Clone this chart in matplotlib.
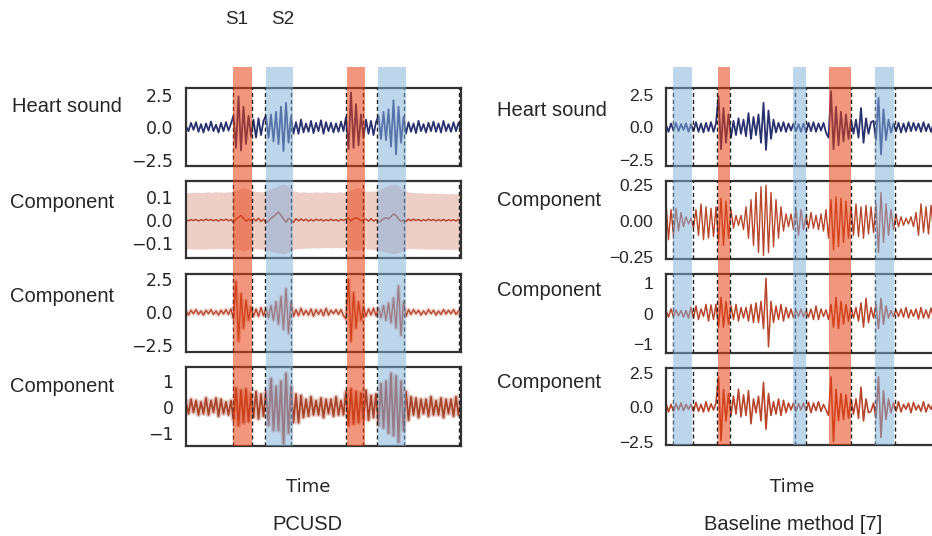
import numpy as np
import matplotlib
matplotlib.use("Agg")
import matplotlib.pyplot as plt
from matplotlib.patches import Rectangle
from matplotlib.transforms import blended_transform_factory

W, H = 932, 536
N = 111
time = np.linspace(0, 2.75, N)

# ---------------- PCUSD (left) ----------------
pc_heart = [0.1, -0.3, 0.35, -0.2, 0.4, -0.35, 0.25, -0.4, 0.3, -0.25, 0.45, -0.3, 0.2, -0.4, 0.35, -0.3, 0.4, -0.25, 0.3,
            0.9, -1.6, 2.4, -1.8, 1.6, -1.3, 0.9, -0.7,
            0.6, -0.8, 0.7, -0.6, 0.5,
            0.9, -0.8, 1.0, -1.1, 1.2, -1.3, 1.6, -1.85, 1.9, -1.2, 0.8, -0.5,
            0.4, -0.5, 0.6, -0.4, 0.3, -0.35, 0.5, -0.45, 0.35, -0.3, 0.55, -0.5, 0.4, -0.3, 0.35, -0.4, 0.3, -0.35, 0.45, -0.3,
            0.8, -1.7, 2.7, -1.6, 1.8, -1.4, 1.0, -0.8,
            0.6, -0.5, 0.5, -0.6, 0.4,
            0.9, -0.9, 1.2, -1.0, 1.4, -1.5, 2.1, -2.1, 1.6, -1.2, 0.8, -0.5,
            0.4, -0.35, 0.3, -0.45, 0.5, -0.3, 0.25, -0.4, 0.35, -0.3, 0.45, -0.35, 0.3, -0.4, 0.5, -0.3, 0.25, -0.35, 0.4, -0.3, 0.35, -0.2]

pc_comp1_mean = [0.0, -0.003, 0.002, -0.002, 0.003, -0.004, 0.002, -0.003, 0.004, -0.002, 0.003, -0.003, 0.002, -0.004, 0.003, -0.002, 0.004, -0.003, 0.002,
                 -0.01, 0.005, 0.012, 0.02, 0.008, -0.005, 0.003, -0.002,
                 0.006, -0.004, 0.008, -0.006, 0.004,
                 -0.01, -0.004, 0.008, 0.015, 0.025, 0.035, 0.02, 0.005, -0.01, 0.008, 0.0, -0.01,
                 0.006, -0.004, 0.005, -0.003, 0.004, -0.005, 0.003, -0.004, 0.004, -0.002, 0.003, -0.004, 0.002, -0.003, 0.004, -0.003, 0.002, -0.004, 0.003, -0.002,
                 0.004, 0.008, -0.004, 0.006, 0.01, 0.005, -0.003, 0.002,
                 0.004, -0.005, 0.006, -0.004, 0.002,
                 -0.008, -0.004, 0.006, 0.01, 0.005, 0.015, 0.026, 0.02, 0.005, -0.005, 0.0, -0.006,
                 0.004, -0.003, 0.004, -0.002, 0.003, -0.004, 0.002, -0.003, 0.004, -0.002, 0.003, -0.004, 0.002, -0.003, 0.003, -0.004, 0.002, -0.003, 0.002, -0.004, 0.003, -0.002]

pc_comp1_upper = [0.118, 0.120, 0.119, 0.121, 0.120, 0.122, 0.121, 0.120, 0.122, 0.123, 0.121, 0.122, 0.124, 0.122, 0.123, 0.121, 0.122, 0.124, 0.123,
                  0.125, 0.128, 0.132, 0.138, 0.143, 0.140, 0.134, 0.128,
                  0.126, 0.124, 0.125, 0.123, 0.124,
                  0.128, 0.132, 0.136, 0.140, 0.145, 0.150, 0.155, 0.157, 0.154, 0.146, 0.136, 0.128,
                  0.124, 0.122, 0.121, 0.123, 0.122, 0.120, 0.122, 0.121, 0.123, 0.122, 0.121, 0.122, 0.123, 0.121, 0.122, 0.120, 0.121, 0.123, 0.122, 0.121,
                  0.124, 0.128, 0.132, 0.136, 0.140, 0.142, 0.138, 0.130,
                  0.126, 0.125, 0.127, 0.126, 0.128,
                  0.132, 0.138, 0.142, 0.146, 0.150, 0.154, 0.157, 0.155, 0.150, 0.142, 0.134, 0.127,
                  0.123, 0.121, 0.120, 0.119, 0.118, 0.119, 0.117, 0.118, 0.116, 0.117, 0.118, 0.116, 0.115, 0.117, 0.116, 0.115, 0.114, 0.116, 0.115, 0.114, 0.116, 0.115]

pc_comp1_lower = [-0.125, -0.124, -0.126, -0.125, -0.127, -0.126, -0.125, -0.127, -0.126, -0.124, -0.125, -0.126, -0.124, -0.125, -0.123, -0.124, -0.125, -0.124, -0.123,
                  -0.124, -0.126, -0.128, -0.132, -0.134, -0.131, -0.128, -0.126,
                  -0.125, -0.124, -0.126, -0.127, -0.128,
                  -0.130, -0.133, -0.136, -0.139, -0.141, -0.143, -0.145, -0.146, -0.144, -0.139, -0.133, -0.128,
                  -0.125, -0.124, -0.123, -0.124, -0.122, -0.121, -0.122, -0.120, -0.121, -0.122, -0.120, -0.121, -0.119, -0.120, -0.121, -0.120, -0.119, -0.121, -0.120, -0.119,
                  -0.121, -0.124, -0.127, -0.130, -0.132, -0.130, -0.127, -0.125,
                  -0.124, -0.126, -0.127, -0.128, -0.129,
                  -0.131, -0.134, -0.137, -0.140, -0.143, -0.145, -0.146, -0.145, -0.142, -0.138, -0.132, -0.127,
                  -0.124, -0.123, -0.124, -0.125, -0.124, -0.125, -0.126, -0.125, -0.126, -0.127, -0.126, -0.127, -0.126, -0.127, -0.128, -0.127, -0.128, -0.127, -0.128, -0.127, -0.128, -0.127]

pc_comp2 = [0.1, -0.2, 0.15, -0.1, 0.2, -0.15, 0.1, -0.2, 0.15, -0.1, 0.2, -0.15, 0.1, -0.2, 0.15, -0.12, 0.2, -0.15, 0.25,
            -0.5, 2.35, -2.2, 1.4, -1.2, 0.9, -0.6, 0.4,
            -0.3, 0.25, -0.3, 0.35, -0.25,
            0.3, -0.4, 0.5, -0.6, 0.8, -0.9, 1.2, -1.3, 1.8, -1.6, 0.8, -0.3,
            0.2, -0.25, 0.3, -0.2, 0.15, -0.2, 0.25, -0.3, 0.2, -0.15, 0.2, -0.25, 0.3, -0.2, 0.15, -0.1, 0.2, -0.15, 0.2, -0.25,
            -0.5, 2.5, -2.2, 1.5, -1.2, 0.8, -0.6, 0.4,
            -0.3, 0.25, -0.2, 0.3, -0.25,
            0.3, -0.4, 0.5, -0.6, 0.7, -0.8, 1.1, -1.2, 2.0, -1.75, 0.8, -0.3,
            0.2, -0.15, 0.2, -0.1, 0.15, -0.2, 0.1, -0.15, 0.2, -0.1, 0.15, -0.2, 0.1, -0.15, 0.2, -0.12, 0.15, -0.1, 0.2, -0.15, 0.1, -0.15]

pc_comp3 = [0.2, -0.25, 0.3, -0.2, 0.25, -0.3, 0.2, -0.25, 0.35, -0.3, 0.25, -0.2, 0.35, -0.35, 0.3, -0.25, 0.2, -0.3, 0.25,
            -0.5, 0.73, -0.7, 0.65, -0.6, 0.7, -0.55, 0.5,
            -0.4, 0.6, -0.45, 0.5, -0.35,
            0.6, -0.7, 1.1, -0.9, 0.8, -0.9, 1.0, -1.4, 1.3, -1.0, 0.8, -0.6,
            0.5, -0.6, 0.45, -0.4, 0.3, -0.35, 0.4, -0.3, 0.25, -0.3, 0.35, -0.4, 0.3, -0.25, 0.3, -0.35, 0.4, -0.3, 0.25, -0.3,
            0.6, -0.7, 0.7, -0.65, 0.6, -0.6, 0.55, -0.5,
            0.65, -0.5, 0.45, -0.4, 0.5,
            -0.7, 0.9, -0.8, 1.0, -1.0, 1.3, -1.1, 1.2, -1.35, 1.0, -0.9, 0.6,
            -0.5, 0.4, -0.3, 0.35, -0.4, 0.3, -0.25, 0.3, -0.35, 0.4, -0.3, 0.25, -0.3, 0.35, -0.4, 0.3, -0.25, 0.3, -0.35, 0.4, -0.3, 0.2]

pc_s1 = [(0.47, 0.66), (1.61, 1.79)]
pc_s2 = [(0.80, 1.07), (1.92, 2.20)]
pc_bounds = [0.47, 0.66, 0.79, 1.05, 1.60, 1.77, 1.91, 2.18, 2.73]

# ---------------- Baseline (right) ----------------
bl_heart = [0.2, -0.35, 0.3, -0.25, 0.35, -0.3, 0.25, -0.2, 0.3, -0.35, 0.25, -0.3, 0.4, -0.35, 0.3, -0.4, 0.35, -0.3, 0.4, -0.35, 0.3,
            2.4, -1.7, 1.5, -1.2, 1.0, -0.8,
            0.5, -0.6, 0.7, -0.5, 0.6, -0.7, 1.1, -0.9, 0.8, -0.6,
            1.0, -1.2, 1.9, -1.75, 1.3, -0.9, 0.6,
            -0.4, 0.35, -0.3, 0.4, -0.35, 0.3, -0.25, 0.3, -0.3, 0.25, -0.35, 0.3, -0.4, 0.35, -0.3, 0.4, -0.35, 0.3, -0.25, 0.35, -0.4,
            -0.8, 2.8, -1.7, 1.6, -1.4, 1.2, -1.1, 1.0, -0.9, 0.6,
            -0.5, 0.6, -0.8, 1.5, -1.2, 0.7, -0.5, 0.4,
            0.5, -1.0, 2.3, -2.1, 1.4, -1.0, 0.6, -0.4, 0.3,
            -0.3, 0.35, -0.4, 0.3, -0.35, 0.4, -0.3, 0.35, -0.25, 0.3, -0.35, 0.4, -0.3, 0.25, -0.35, 0.3, -0.4, 0.35, -0.3]

bl_comp1 = [0.14, -0.13, 0.08,
            -0.1, 0.09, -0.07, 0.06, -0.04, 0.03, -0.02, 0.02,
            -0.05, 0.08, -0.1, 0.12, -0.13, 0.1, -0.12, 0.09, -0.11, 0.1,
            -0.15, 0.16, -0.17, 0.14, -0.12, 0.08,
            -0.05, 0.04, -0.03, 0.04, -0.06,
            0.1, -0.12, 0.15, -0.17, 0.2, -0.22, 0.24, -0.24, 0.25, -0.22, 0.2, -0.18, 0.15, -0.12, 0.1, -0.07, 0.05, -0.04,
            0.05, -0.06, 0.09, -0.1, 0.08, -0.06, 0.04, -0.05, 0.06, -0.05, 0.04, -0.06, 0.05, -0.07, 0.08,
            -0.12, 0.15, -0.2, 0.17, -0.18, 0.16, -0.15, 0.14, -0.12, 0.1,
            -0.1, 0.12, -0.11, 0.1, -0.12, 0.11, -0.09, 0.1, -0.08,
            0.12, -0.22, 0.2, -0.15, 0.12, -0.1, 0.08, -0.06,
            0.05, -0.04, 0.03, -0.03, 0.02, -0.02, 0.03, -0.04, 0.06, -0.1, 0.12, -0.08, 0.1, -0.09, 0.11, -0.08, 0.06, -0.05, 0.04]

bl_comp2 = [0.1, -0.12, 0.15, -0.1, 0.12, -0.08, 0.1, -0.12, 0.1, -0.15, 0.2, -0.15, 0.25, -0.2, 0.15, -0.1, 0.3, -0.25, 0.28, -0.2,
            0.3, -0.45, 0.53, -0.45, 0.4, -0.35, 0.25,
            -0.2, 0.3, -0.25, 0.2, -0.15, 0.2, -0.25,
            0.3, -0.3, 0.35, -0.3, 0.4, -0.5,
            1.16, -1.1,
            0.4, -0.3, 0.25, -0.2, 0.3, -0.25, 0.2, -0.15, 0.15,
            -0.15, 0.12, -0.1, 0.15, -0.12, 0.1,
            -0.12, 0.15, -0.2, 0.25, -0.2, 0.15, -0.1, 0.12,
            -0.2, 0.3, -0.45, 0.53, -0.5, 0.4, -0.35, 0.3, -0.25, 0.2,
            -0.15, 0.2, -0.25, 0.35, -0.45, 0.5, -0.3, 0.2, -0.15,
            0.3, -0.5, 0.5, -0.35, 0.25, -0.15, 0.1, -0.1,
            0.12, -0.1, 0.15, -0.12, 0.2, -0.15, 0.12, -0.1, 0.15, -0.18, 0.2, -0.15, 0.12, -0.15, 0.18, -0.12, 0.1, -0.12, 0.1]

bl_comp3 = [0.3, -0.35, 0.2, -0.3, 0.25, -0.2, 0.3, -0.25, 0.2, -0.15, 0.2, -0.3, 0.35, -0.3, 0.2, -0.35, 0.4, -0.3, 0.25, -0.2, 0.3,
            2.2, -2.45, 1.3, -1.0, 1.0, -0.6,
            0.8, -0.5, 1.3, -0.7, 0.9, -0.6, 1.2, -1.2, 0.6, -0.4,
            0.8, -1.0, 1.8, -1.6, 1.0, -0.6, 0.4,
            -0.5, 0.6, -0.6, 0.5, -0.4, 0.3, -0.2,
            0.3, -0.3, 0.25, -0.2, 0.3, -0.25,
            0.35, -0.4, 0.3, -0.25, 0.4, -0.3, 0.2, -0.2,
            -0.6, 2.2, -2.5, 1.3, -1.0, 1.0, -0.9, 0.9, -0.8, 0.6,
            -0.5, 0.6, -0.8, 1.45, -1.0, 0.6, -0.4, -0.3, 0.3,
            -0.8, 2.2, -2.2, 1.2, -0.9, 0.6, -0.4, 0.3, -0.3,
            0.4, -0.35, 0.2, -0.15, 0.3, -0.4, 0.35, -0.2, 0.15, -0.3, 0.4, -0.35, 0.2, -0.15, 0.3, -0.35, 0.3, -0.2]

bl_s1 = [(0.52, 0.64), (1.63, 1.85)]
bl_s2 = [(0.07, 0.26), (1.27, 1.40), (2.09, 2.28)]
bl_bounds = [0.07, 0.27, 0.51, 0.64, 1.29, 1.40, 1.85, 2.09, 2.29]

# ---------------- styling ----------------
NAVY = "#29316f"
BRICK = "#b8462c"
BRICK_D = "#a9432a"
S1_COL = "#e94012"
S2_COL = "#83b1db"
SPINE = "#333333"
TXT = "#262626"

fig = plt.figure(figsize=(W / 100, H / 100), dpi=100)


def px_axes(x0, top, bottom, width=275):
    return fig.add_axes([x0 / W, 1 - bottom / H, width / W, (bottom - top) / H])


def style(ax, ylim, yticks, tickfont, ticksize):
    ax.set_xlim(time[0], time[-1])
    ax.set_ylim(*ylim)
    ax.set_yticks(yticks)
    ax.set_xticks([])
    ax.tick_params(axis="y", length=0, pad=9, labelsize=ticksize, labelcolor=TXT)
    for lab in ax.get_yticklabels():
        lab.set_fontfamily(tickfont)
    for sp in ax.spines.values():
        sp.set_color(SPINE)
        sp.set_linewidth(1.6)


def bounds(ax, bl):
    for b in bl:
        ax.axvline(b, color="#222222", lw=1.0, ls=(0, (3, 2)), zorder=3)


def spans(ax, s1, s2, top_px=67, bot_px=446):
    tr = blended_transform_factory(ax.transData, fig.transFigure)
    for a, b in s1:
        fig.add_artist(Rectangle((a, 1 - bot_px / H), b - a, (bot_px - top_px) / H,
                                 transform=tr, facecolor=S1_COL, alpha=0.55, lw=0, zorder=5))
    for a, b in s2:
        fig.add_artist(Rectangle((a, 1 - bot_px / H), b - a, (bot_px - top_px) / H,
                                 transform=tr, facecolor=S2_COL, alpha=0.52, lw=0, zorder=5))


# ----- left column -----
L0 = 186
la1 = px_axes(L0, 88, 166)
la1.plot(time, pc_heart, color=NAVY, lw=1.3)
style(la1, (-3.0, 3.05), [-2.5, 0, 2.5], "DejaVu Sans", 12.5)
bounds(la1, pc_bounds)

la2 = px_axes(L0, 181, 258)
la2.fill_between(time, pc_comp1_lower, pc_comp1_upper, color="#c0553a", alpha=0.28, lw=0)
la2.plot(time, pc_comp1_mean, color=BRICK, lw=1.1)
style(la2, (-0.165, 0.17), [-0.1, 0, 0.1], "DejaVu Sans", 12.5)
bounds(la2, pc_bounds)

la3 = px_axes(L0, 274, 352)
la3.plot(time, pc_comp2, color=BRICK, lw=3.0, alpha=0.25)
la3.plot(time, pc_comp2, color=BRICK, lw=1.0)
style(la3, (-3.0, 2.9), [-2.5, 0, 2.5], "DejaVu Sans", 12.5)
bounds(la3, pc_bounds)

la4 = px_axes(L0, 367, 446)
la4.plot(time, pc_comp3, color=BRICK_D, lw=3.5, alpha=0.3)
la4.plot(time, pc_comp3, color=BRICK_D, lw=1.3)
style(la4, (-1.5, 1.55), [-1, 0, 1], "DejaVu Sans", 12.5)
bounds(la4, pc_bounds)

spans(la1, pc_s1, pc_s2, 67, 446)

# ----- right column -----
R0 = 666
ra1 = px_axes(R0, 88, 166)
ra1.plot(time, bl_heart, color=NAVY, lw=1.3)
style(ra1, (-3.0, 3.05), [-2.5, 0, 2.5], "Liberation Sans", 12.5)
bounds(ra1, bl_bounds)

ra2 = px_axes(R0, 181, 259)
ra2.plot(time, bl_comp1, color=BRICK, lw=1.0)
style(ra2, (-0.265, 0.28), [-0.25, 0, 0.25], "Liberation Sans", 12.5)
bounds(ra2, bl_bounds)

ra3 = px_axes(R0, 274, 353)
ra3.plot(time, bl_comp2, color=BRICK, lw=1.1)
style(ra3, (-1.3, 1.3), [-1, 0, 1], "Liberation Sans", 12.5)
bounds(ra3, bl_bounds)

ra4 = px_axes(R0, 368, 445)
ra4.plot(time, bl_comp3, color=BRICK, lw=1.2)
style(ra4, (-2.75, 2.85), [-2.5, 0, 2.5], "Liberation Sans", 12.5)
bounds(ra4, bl_bounds)

spans(ra1, bl_s1, bl_s2, 67, 445)

# ----- texts -----
LAB = dict(fontfamily="Liberation Sans", fontsize=14.5, color=TXT, va="center", ha="left")
fig.text(12 / W, 1 - 106 / H, "Heart sound", **LAB)
fig.text(10 / W, 1 - 202 / H, "Component", **LAB)
fig.text(10 / W, 1 - 297 / H, "Component", **LAB)
fig.text(10 / W, 1 - 386 / H, "Component", **LAB)
fig.text(497 / W, 1 - 111 / H, "Heart sound", **LAB)
fig.text(497 / W, 1 - 200 / H, "Component", **LAB)
fig.text(497 / W, 1 - 291 / H, "Component", **LAB)
fig.text(497 / W, 1 - 382 / H, "Component", **LAB)

fig.text(237 / W, 1 - 20 / H, "S1", fontfamily="Liberation Sans", fontsize=13.5, color=TXT, ha="center", va="center")
fig.text(283 / W, 1 - 20 / H, "S2", fontfamily="Liberation Sans", fontsize=13.5, color=TXT, ha="center", va="center")

fig.text(308 / W, 1 - 487 / H, "Time", fontfamily="DejaVu Sans", fontsize=13, color=TXT, ha="center", va="center")
fig.text(792 / W, 1 - 487 / H, "Time", fontfamily="DejaVu Sans", fontsize=13, color=TXT, ha="center", va="center")
fig.text(307 / W, 1 - 525 / H, "PCUSD", fontfamily="Liberation Sans", fontsize=14.5, color=TXT, ha="center", va="center")
fig.text(793 / W, 1 - 525 / H, "Baseline method [7]", fontfamily="Liberation Sans", fontsize=14.5, color=TXT, ha="center", va="center")

fig.savefig("out.png", dpi=100)
